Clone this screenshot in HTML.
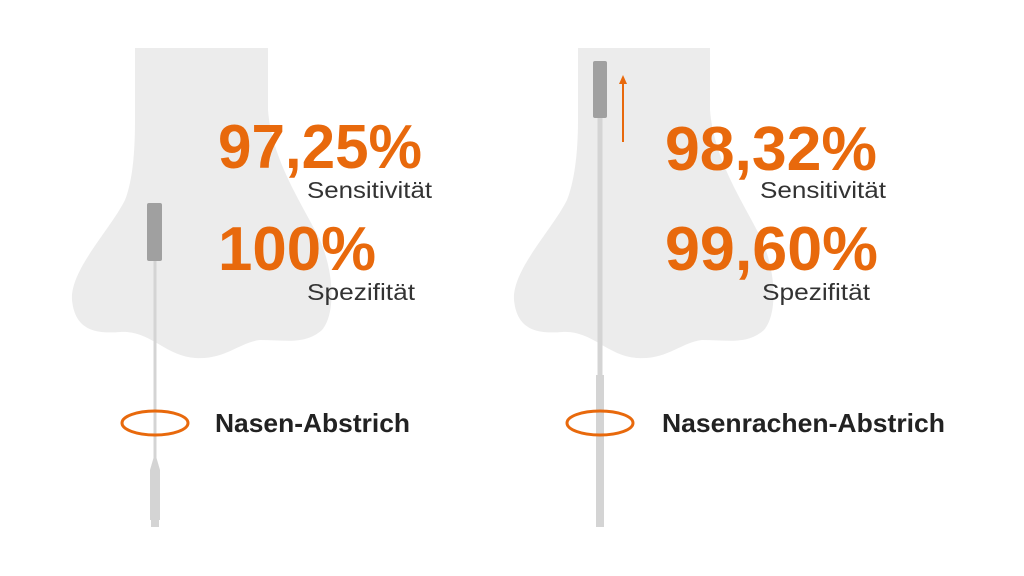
<!DOCTYPE html>
<html><head><meta charset="utf-8"><style>
html,body{margin:0;padding:0;background:#fff;}
svg{display:block;}
text{font-family:"Liberation Sans",sans-serif;}
</style></head><body>
<svg width="1024" height="576" viewBox="0 0 1024 576">
<path d="M135,48 L268,48 L268,110 C272,160 300,200 320,240 C335,275 335,315 322,330 C305,345 285,340 260,340 C240,342 225,360 195,358 C165,356 150,330 120,332 C95,334 75,330 72,300 C70,270 110,230 125,200 C133,180 135,150 135,120 Z" fill="#ececec"/>
<path d="M578,48 L710,48 L710,110 C714,160 742,200 762,240 C777,275 777,315 764,330 C747,345 727,340 702,340 C682,342 667,360 637,358 C607,356 592,330 562,332 C537,334 517,330 514,300 C512,270 552,230 567,200 C575,180 578,150 578,120 Z" fill="#ececec"/>
<!-- left swab -->
<rect x="153.5" y="258" width="3" height="200" fill="#d4d4d4"/>
<path d="M153.5,458 L150,470 L150,520 L160,520 L160,470 L156.5,458 Z" fill="#d4d4d4"/>
<rect x="151" y="519" width="8" height="8" fill="#d4d4d4"/>
<rect x="147" y="203" width="15" height="58" rx="2" fill="#a0a0a0"/>
<!-- right swab -->
<rect x="597.5" y="115" width="5" height="260" fill="#d4d4d4"/>
<rect x="596" y="375" width="8" height="152" fill="#d4d4d4"/>
<rect x="593" y="61" width="14" height="57" rx="2" fill="#a0a0a0"/>
<line x1="623" y1="142" x2="623" y2="82" stroke="#e8690c" stroke-width="2"/>
<path d="M619,84 L623,75 L627,84 Z" fill="#e8690c"/>
<!-- ellipses -->
<ellipse cx="155" cy="423" rx="33" ry="12" fill="none" stroke="#e8690c" stroke-width="3"/>
<ellipse cx="600" cy="423" rx="33" ry="12" fill="none" stroke="#e8690c" stroke-width="3"/>
<!-- texts left -->
<text x="218" y="168" font-size="62" font-weight="bold" fill="#e8690c" textLength="204" lengthAdjust="spacingAndGlyphs">97,25%</text>
<text x="307" y="198" font-size="23" fill="#333" textLength="125" lengthAdjust="spacingAndGlyphs">Sensitivität</text>
<text x="218" y="270" font-size="62" font-weight="bold" fill="#e8690c" textLength="158" lengthAdjust="spacingAndGlyphs">100%</text>
<text x="307" y="300" font-size="23" fill="#333" textLength="108" lengthAdjust="spacingAndGlyphs">Spezifität</text>
<text x="215" y="432" font-size="26" font-weight="bold" fill="#222" textLength="195" lengthAdjust="spacingAndGlyphs">Nasen-Abstrich</text>
<!-- texts right -->
<text x="665" y="170" font-size="62" font-weight="bold" fill="#e8690c" textLength="212" lengthAdjust="spacingAndGlyphs">98,32%</text>
<text x="760" y="198" font-size="23" fill="#333" textLength="126" lengthAdjust="spacingAndGlyphs">Sensitivität</text>
<text x="665" y="270" font-size="62" font-weight="bold" fill="#e8690c" textLength="213" lengthAdjust="spacingAndGlyphs">99,60%</text>
<text x="762" y="300" font-size="23" fill="#333" textLength="108" lengthAdjust="spacingAndGlyphs">Spezifität</text>
<text x="662" y="432" font-size="26" font-weight="bold" fill="#222" textLength="283" lengthAdjust="spacingAndGlyphs">Nasenrachen-Abstrich</text>
</svg>
</body></html>
